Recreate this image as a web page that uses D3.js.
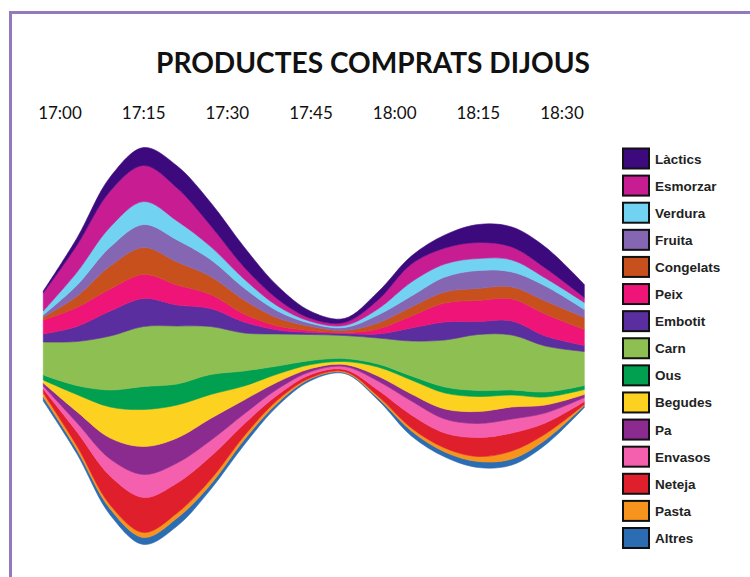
<!DOCTYPE html>
<html><head><meta charset="utf-8">
<script src="https://cdn.jsdelivr.net/npm/d3@7"></script>
<style>html,body{margin:0;padding:0;background:#fff;} svg{display:block;}</style>
</head><body><svg id="chart" width="750" height="577"></svg>
<script>
// ---- data ----
const title = "PRODUCTES COMPRATS DIJOUS";
// sample instants, minutes after 17:00
const sampleMinutes = [-3, 3, 9, 15, 21, 27, 33, 39, 45, 51, 57, 63, 69, 75, 81, 87, 94];
const tickLabels = ["17:00", "17:15", "17:30", "17:45", "18:00", "18:15", "18:30"];
const tickMinutes = [0, 15, 30, 45, 60, 75, 90];
const products = ["Làctics", "Esmorzar", "Verdura", "Fruita", "Congelats", "Peix", "Embotit", "Carn",
                  "Ous", "Begudes", "Pa", "Envasos", "Neteja", "Pasta", "Altres"];
const productColors = ["#3d0a7e", "#c81c92", "#72d2f2", "#8566b3", "#c8501c", "#ef1478", "#5a2e9e", "#8dbf52",
                       "#00a050", "#fdd11f", "#8b2a8f", "#f560ae", "#df1f2b", "#f7941d", "#2c6cb3"];
const lactics   = [2, 7, 14, 18, 22, 23, 20, 13, 7, 4, 8, 8, 13, 18, 20, 21, 13];
const esmorzar  = [18, 27, 36, 36, 33, 21, 12, 7, 3, 3, 9, 18, 16, 16, 13, 10, 5];
const verdura   = [4, 13, 20, 23, 19, 13, 9, 5, 2, 2, 6, 14, 13, 12, 12, 8, 7];
const fruita    = [2, 11, 19, 23, 22, 17, 12, 7, 3, 3, 8, 11, 15, 18, 15, 15, 8];
const congelats = [3, 11, 23, 27, 23, 18, 14, 8, 4, 2, 6, 9, 11, 12, 12, 13, 12];
const peix      = [14, 19, 22, 24, 20, 14, 8, 4, 2, 1, 5, 12, 19, 21, 22, 22, 16];
const embotit   = [8, 15, 25, 28, 21, 18, 11, 4, 2, 2, 4, 13, 18, 13, 14, 10, 6];
const carn      = [33, 44, 54, 60, 58, 48, 38, 32, 26, 23, 26, 35, 47, 56, 55, 46, 34];
const ous       = [5, 9, 17, 23, 21, 20, 15, 8, 4, 3, 3, 4, 6, 6, 5, 5, 4];
const begudes   = [3, 17, 31, 37, 33, 24, 14, 8, 4, 3, 9, 14, 16, 15, 12, 8, 5];
const pa        = [3, 11, 21, 28, 25, 22, 14, 7, 3, 2, 5, 7, 10, 12, 12, 8, 3];
const envasos   = [3, 9, 17, 23, 20, 16, 10, 6, 3, 3, 9, 14, 14, 14, 14, 10, 4];
const neteja    = [4, 14, 29, 35, 30, 23, 12, 5, 3, 2, 6, 13, 15, 19, 18, 11, 3];
const pasta     = [4, 4, 4, 5, 5, 5, 4, 3, 1, 1, 2, 3, 4, 5, 8, 6, 1];
const altres    = [4, 4, 6, 7, 8, 5, 5, 3, 2, 1, 2, 5, 5, 6, 6, 5, 2];

const seriesValues = [lactics, esmorzar, verdura, fruita, congelats, peix, embotit, carn,
                      ous, begudes, pa, envasos, neteja, pasta, altres];

// ---- build table ----
const rows = sampleMinutes.map((m, i) => {
  const r = { minute: m };
  products.forEach((p, k) => r[p] = seriesValues[k][i]);
  return r;
});

const svg = d3.select("#chart");

// frame
svg.append("rect").attr("x", 10.5).attr("y", 12.5).attr("width", 800).attr("height", 700)
  .attr("fill", "#fff").attr("stroke", "#9479bd").attr("stroke-width", 3);

const x = d3.scaleLinear().domain([0, 90]).range([60, 562]);
const y = d3.scaleLinear().domain([-200, 200]).range([546, 146]);

// stack: bottom layer first (Altres), so reverse the order
const keys = products.slice().reverse();
const stack = d3.stack().keys(keys).offset(d3.stackOffsetSilhouette).order(d3.stackOrderNone);
const layers = stack(rows);
const colorOf = d3.scaleOrdinal().domain(products).range(productColors);

const area = d3.area()
  .x(d => x(d.data.minute))
  .y0(d => y(d[0]))
  .y1(d => y(d[1]))
  .curve(d3.curveCatmullRom.alpha(0.5));

svg.append("g").selectAll("path").data(layers).join("path")
  .attr("d", area)
  .attr("fill", d => colorOf(d.key))
  .attr("stroke", d => colorOf(d.key))
  .attr("stroke-width", 0.6);

// title
svg.append("text").attr("x", 373).attr("y", 73).attr("text-anchor", "middle")
  .attr("font-family", "Lato, 'Open Sans', sans-serif").attr("font-weight", "bold")
  .attr("font-size", 28).attr("fill", "#111")
  .attr("textLength", 434).attr("lengthAdjust", "spacingAndGlyphs")
  .text(title);

// time labels on top
svg.append("g").selectAll("text").data(tickLabels).join("text")
  .attr("x", (d, i) => x(tickMinutes[i]))
  .attr("y", 119)
  .attr("text-anchor", "middle")
  .attr("font-family", "Lato, 'Open Sans', sans-serif")
  .attr("font-size", 17).attr("fill", "#111")
  .text(d => d);

// legend
const legendY = d3.scalePoint().domain(products).range([158.5, 538]);
const lg = svg.append("g");
const item = lg.selectAll("g").data(products).join("g")
  .attr("transform", d => `translate(623, ${legendY(d)})`);
item.append("rect").attr("x", 0).attr("y", -10).attr("width", 26).attr("height", 20)
  .attr("fill", d => colorOf(d)).attr("stroke", "#111").attr("stroke-width", 2);
item.append("text").attr("x", 32).attr("y", 5)
  .attr("font-family", "'Liberation Sans', Arial, sans-serif").attr("font-weight", "bold")
  .attr("font-size", 13.5).attr("fill", "#222")
  .text(d => d);
</script></body></html>
